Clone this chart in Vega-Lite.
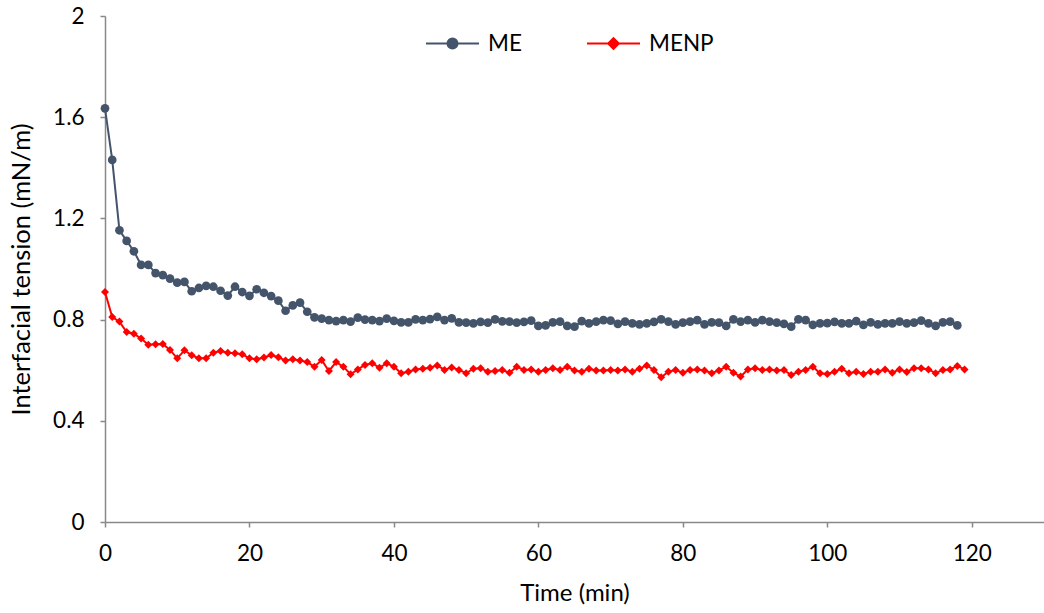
{
  "$schema": "https://vega.github.io/schema/vega-lite/v6.json",
  "autosize": {"type": "none"},
  "width": 939,
  "height": 506,
  "padding": {"left": 105, "top": 16, "right": 0, "bottom": 91},
  "background": "white",
  "config": {
    "view": {"stroke": null},
    "font": "Lato",
    "axis": {"grid": false, "labelFlush": false, "domainColor": "#898989", "domainWidth": 1.5, "tickColor": "#898989", "tickWidth": 1.5, "tickSize": 5, "labelFont": "Lato", "labelFontSize": 22.5, "labelColor": "#000000", "titleFont": "Lato", "titleFontWeight": "normal", "titleColor": "#000000"},
    "legend": {"labelFont": "Lato", "labelFontSize": 22.5, "labelColor": "#000000"}
  },
  "data": {"values": [
    {"t":0,"s":"ME","v":1.635},{"t":1,"s":"ME","v":1.431},{"t":2,"s":"ME","v":1.153},{"t":3,"s":"ME","v":1.111},{"t":4,"s":"ME","v":1.070},{"t":5,"s":"ME","v":1.016},{"t":6,"s":"ME","v":1.016},{"t":7,"s":"ME","v":0.984},{"t":8,"s":"ME","v":0.976},{"t":9,"s":"ME","v":0.962},
    {"t":10,"s":"ME","v":0.946},{"t":11,"s":"ME","v":0.949},{"t":12,"s":"ME","v":0.912},{"t":13,"s":"ME","v":0.925},{"t":14,"s":"ME","v":0.933},{"t":15,"s":"ME","v":0.930},{"t":16,"s":"ME","v":0.914},{"t":17,"s":"ME","v":0.895},{"t":18,"s":"ME","v":0.930},{"t":19,"s":"ME","v":0.909},
    {"t":20,"s":"ME","v":0.894},{"t":21,"s":"ME","v":0.920},{"t":22,"s":"ME","v":0.906},{"t":23,"s":"ME","v":0.893},{"t":24,"s":"ME","v":0.875},{"t":25,"s":"ME","v":0.835},{"t":26,"s":"ME","v":0.856},{"t":27,"s":"ME","v":0.867},{"t":28,"s":"ME","v":0.831},{"t":29,"s":"ME","v":0.809},
    {"t":30,"s":"ME","v":0.804},{"t":31,"s":"ME","v":0.798},{"t":32,"s":"ME","v":0.794},{"t":33,"s":"ME","v":0.798},{"t":34,"s":"ME","v":0.792},{"t":35,"s":"ME","v":0.808},{"t":36,"s":"ME","v":0.800},{"t":37,"s":"ME","v":0.798},{"t":38,"s":"ME","v":0.794},{"t":39,"s":"ME","v":0.804},
    {"t":40,"s":"ME","v":0.795},{"t":41,"s":"ME","v":0.789},{"t":42,"s":"ME","v":0.789},{"t":43,"s":"ME","v":0.801},{"t":44,"s":"ME","v":0.798},{"t":45,"s":"ME","v":0.802},{"t":46,"s":"ME","v":0.811},{"t":47,"s":"ME","v":0.798},{"t":48,"s":"ME","v":0.805},{"t":49,"s":"ME","v":0.789},
    {"t":50,"s":"ME","v":0.788},{"t":51,"s":"ME","v":0.785},{"t":52,"s":"ME","v":0.791},{"t":53,"s":"ME","v":0.788},{"t":54,"s":"ME","v":0.801},{"t":55,"s":"ME","v":0.793},{"t":56,"s":"ME","v":0.792},{"t":57,"s":"ME","v":0.788},{"t":58,"s":"ME","v":0.791},{"t":59,"s":"ME","v":0.796},
    {"t":60,"s":"ME","v":0.775},{"t":61,"s":"ME","v":0.777},{"t":62,"s":"ME","v":0.789},{"t":63,"s":"ME","v":0.792},{"t":64,"s":"ME","v":0.775},{"t":65,"s":"ME","v":0.772},{"t":66,"s":"ME","v":0.794},{"t":67,"s":"ME","v":0.785},{"t":68,"s":"ME","v":0.792},{"t":69,"s":"ME","v":0.798},
    {"t":70,"s":"ME","v":0.796},{"t":71,"s":"ME","v":0.783},{"t":72,"s":"ME","v":0.792},{"t":73,"s":"ME","v":0.785},{"t":74,"s":"ME","v":0.781},{"t":75,"s":"ME","v":0.785},{"t":76,"s":"ME","v":0.791},{"t":77,"s":"ME","v":0.801},{"t":78,"s":"ME","v":0.792},{"t":79,"s":"ME","v":0.781},
    {"t":80,"s":"ME","v":0.788},{"t":81,"s":"ME","v":0.792},{"t":82,"s":"ME","v":0.798},{"t":83,"s":"ME","v":0.781},{"t":84,"s":"ME","v":0.789},{"t":85,"s":"ME","v":0.788},{"t":86,"s":"ME","v":0.775},{"t":87,"s":"ME","v":0.801},{"t":88,"s":"ME","v":0.792},{"t":89,"s":"ME","v":0.798},
    {"t":90,"s":"ME","v":0.789},{"t":91,"s":"ME","v":0.798},{"t":92,"s":"ME","v":0.792},{"t":93,"s":"ME","v":0.788},{"t":94,"s":"ME","v":0.783},{"t":95,"s":"ME","v":0.772},{"t":96,"s":"ME","v":0.801},{"t":97,"s":"ME","v":0.798},{"t":98,"s":"ME","v":0.779},{"t":99,"s":"ME","v":0.785},
    {"t":100,"s":"ME","v":0.786},{"t":101,"s":"ME","v":0.791},{"t":102,"s":"ME","v":0.785},{"t":103,"s":"ME","v":0.785},{"t":104,"s":"ME","v":0.794},{"t":105,"s":"ME","v":0.779},{"t":106,"s":"ME","v":0.789},{"t":107,"s":"ME","v":0.781},{"t":108,"s":"ME","v":0.785},{"t":109,"s":"ME","v":0.785},
    {"t":110,"s":"ME","v":0.792},{"t":111,"s":"ME","v":0.785},{"t":112,"s":"ME","v":0.788},{"t":113,"s":"ME","v":0.796},{"t":114,"s":"ME","v":0.785},{"t":115,"s":"ME","v":0.775},{"t":116,"s":"ME","v":0.789},{"t":117,"s":"ME","v":0.792},{"t":118,"s":"ME","v":0.777},
    {"t":0,"s":"MENP","v":0.909},{"t":1,"s":"MENP","v":0.810},{"t":2,"s":"MENP","v":0.792},{"t":3,"s":"MENP","v":0.751},{"t":4,"s":"MENP","v":0.744},{"t":5,"s":"MENP","v":0.725},{"t":6,"s":"MENP","v":0.701},{"t":7,"s":"MENP","v":0.703},{"t":8,"s":"MENP","v":0.704},{"t":9,"s":"MENP","v":0.680},
    {"t":10,"s":"MENP","v":0.647},{"t":11,"s":"MENP","v":0.679},{"t":12,"s":"MENP","v":0.659},{"t":13,"s":"MENP","v":0.647},{"t":14,"s":"MENP","v":0.647},{"t":15,"s":"MENP","v":0.669},{"t":16,"s":"MENP","v":0.676},{"t":17,"s":"MENP","v":0.669},{"t":18,"s":"MENP","v":0.667},{"t":19,"s":"MENP","v":0.663},
    {"t":20,"s":"MENP","v":0.647},{"t":21,"s":"MENP","v":0.643},{"t":22,"s":"MENP","v":0.650},{"t":23,"s":"MENP","v":0.660},{"t":24,"s":"MENP","v":0.651},{"t":25,"s":"MENP","v":0.638},{"t":26,"s":"MENP","v":0.643},{"t":27,"s":"MENP","v":0.638},{"t":28,"s":"MENP","v":0.632},{"t":29,"s":"MENP","v":0.614},
    {"t":30,"s":"MENP","v":0.640},{"t":31,"s":"MENP","v":0.597},{"t":32,"s":"MENP","v":0.632},{"t":33,"s":"MENP","v":0.614},{"t":34,"s":"MENP","v":0.584},{"t":35,"s":"MENP","v":0.603},{"t":36,"s":"MENP","v":0.621},{"t":37,"s":"MENP","v":0.627},{"t":38,"s":"MENP","v":0.610},{"t":39,"s":"MENP","v":0.627},
    {"t":40,"s":"MENP","v":0.614},{"t":41,"s":"MENP","v":0.588},{"t":42,"s":"MENP","v":0.594},{"t":43,"s":"MENP","v":0.603},{"t":44,"s":"MENP","v":0.606},{"t":45,"s":"MENP","v":0.610},{"t":46,"s":"MENP","v":0.619},{"t":47,"s":"MENP","v":0.601},{"t":48,"s":"MENP","v":0.611},{"t":49,"s":"MENP","v":0.601},
    {"t":50,"s":"MENP","v":0.588},{"t":51,"s":"MENP","v":0.606},{"t":52,"s":"MENP","v":0.608},{"t":53,"s":"MENP","v":0.594},{"t":54,"s":"MENP","v":0.597},{"t":55,"s":"MENP","v":0.601},{"t":56,"s":"MENP","v":0.590},{"t":57,"s":"MENP","v":0.614},{"t":58,"s":"MENP","v":0.601},{"t":59,"s":"MENP","v":0.603},
    {"t":60,"s":"MENP","v":0.594},{"t":61,"s":"MENP","v":0.601},{"t":62,"s":"MENP","v":0.608},{"t":63,"s":"MENP","v":0.601},{"t":64,"s":"MENP","v":0.614},{"t":65,"s":"MENP","v":0.599},{"t":66,"s":"MENP","v":0.594},{"t":67,"s":"MENP","v":0.606},{"t":68,"s":"MENP","v":0.599},{"t":69,"s":"MENP","v":0.599},
    {"t":70,"s":"MENP","v":0.601},{"t":71,"s":"MENP","v":0.599},{"t":72,"s":"MENP","v":0.603},{"t":73,"s":"MENP","v":0.594},{"t":74,"s":"MENP","v":0.606},{"t":75,"s":"MENP","v":0.619},{"t":76,"s":"MENP","v":0.601},{"t":77,"s":"MENP","v":0.572},{"t":78,"s":"MENP","v":0.594},{"t":79,"s":"MENP","v":0.601},
    {"t":80,"s":"MENP","v":0.590},{"t":81,"s":"MENP","v":0.601},{"t":82,"s":"MENP","v":0.603},{"t":83,"s":"MENP","v":0.599},{"t":84,"s":"MENP","v":0.588},{"t":85,"s":"MENP","v":0.599},{"t":86,"s":"MENP","v":0.614},{"t":87,"s":"MENP","v":0.590},{"t":88,"s":"MENP","v":0.575},{"t":89,"s":"MENP","v":0.603},
    {"t":90,"s":"MENP","v":0.608},{"t":91,"s":"MENP","v":0.601},{"t":92,"s":"MENP","v":0.603},{"t":93,"s":"MENP","v":0.599},{"t":94,"s":"MENP","v":0.601},{"t":95,"s":"MENP","v":0.581},{"t":96,"s":"MENP","v":0.594},{"t":97,"s":"MENP","v":0.601},{"t":98,"s":"MENP","v":0.614},{"t":99,"s":"MENP","v":0.588},
    {"t":100,"s":"MENP","v":0.585},{"t":101,"s":"MENP","v":0.594},{"t":102,"s":"MENP","v":0.606},{"t":103,"s":"MENP","v":0.588},{"t":104,"s":"MENP","v":0.594},{"t":105,"s":"MENP","v":0.585},{"t":106,"s":"MENP","v":0.594},{"t":107,"s":"MENP","v":0.594},{"t":108,"s":"MENP","v":0.603},{"t":109,"s":"MENP","v":0.590},
    {"t":110,"s":"MENP","v":0.603},{"t":111,"s":"MENP","v":0.593},{"t":112,"s":"MENP","v":0.608},{"t":113,"s":"MENP","v":0.608},{"t":114,"s":"MENP","v":0.603},{"t":115,"s":"MENP","v":0.588},{"t":116,"s":"MENP","v":0.601},{"t":117,"s":"MENP","v":0.603},{"t":118,"s":"MENP","v":0.617},{"t":119,"s":"MENP","v":0.603}
  ]},
  "encoding": {
    "x": {"field": "t", "type": "quantitative", "title": "Time (min)",
      "scale": {"domain": [0, 130], "nice": false, "zero": true},
      "axis": {"values": [0, 20, 40, 60, 80, 100, 120], "labelPadding": 15, "titlePadding": 17, "titleFontSize": 24}},
    "y": {"field": "v", "type": "quantitative", "title": "Interfacial tension (mN/m)",
      "scale": {"domain": [0, 2], "nice": false},
      "axis": {"values": [0, 0.4, 0.8, 1.2, 1.6, 2], "format": "~g", "labelPadding": 16, "titlePadding": 18, "titleFontSize": 25.5}},
    "color": {"field": "s", "type": "nominal", "title": null,
      "scale": {"domain": ["ME", "MENP"], "range": ["#44546A", "#FF0000"]},
      "legend": {"orient": "none", "direction": "horizontal", "legendX": 320, "legendY": 0, "padding": 0,
        "symbolSize": 2809, "symbolStrokeWidth": 2, "labelOffset": 8, "columnPadding": 30, "gridAlign": "all",
        "encode": {"symbols": {"update": {
          "shape": {"signal": "datum.value === 'ME' ? 'M-1,0L1,0M-0.19,0A0.19,0.19 0 1,1 0.19,0A0.19,0.19 0 1,1 -0.19,0Z' : 'M-1,0L1,0M0,-0.2L0.2,0L0,0.2L-0.2,0Z'"},
          "fill": {"signal": "datum.value === 'ME' ? '#44546A' : '#FF0000'"},
          "stroke": {"signal": "datum.value === 'ME' ? '#44546A' : '#FF0000'"},
          "strokeWidth": {"value": 2},
          "opacity": {"value": 1}
        }}}}}
  },
  "layer": [
    {"mark": {"type": "line", "strokeWidth": 2}},
    {"transform": [{"filter": "datum.s === 'ME'"}],
     "mark": {"type": "point", "filled": true, "opacity": 1, "size": 76, "shape": "circle"}},
    {"transform": [{"filter": "datum.s === 'MENP'"}],
     "mark": {"type": "point", "filled": true, "opacity": 1, "size": 64, "shape": "diamond"}}
  ]
}
